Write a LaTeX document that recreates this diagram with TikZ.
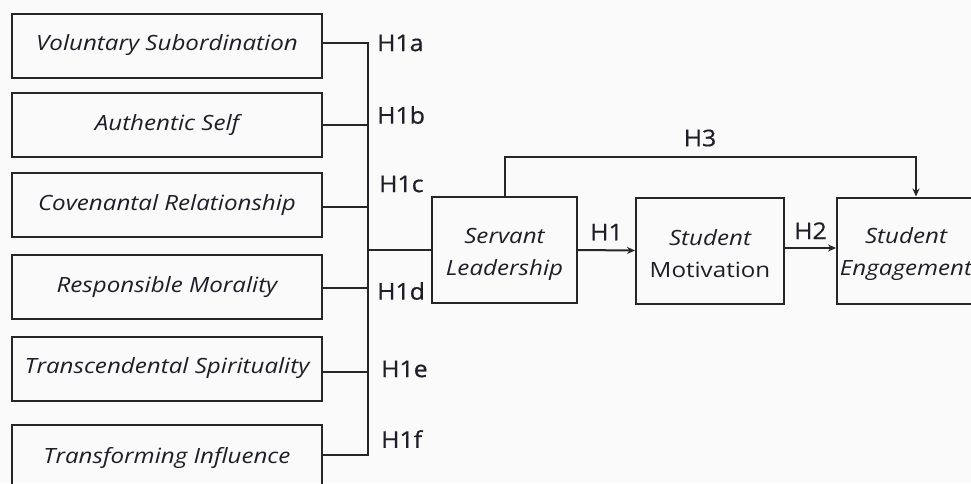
\documentclass[tikz,border=0pt]{standalone}
\usepackage{fontspec}
\setmainfont{Open Sans}[FakeStretch=1.15]
\newfontfamily\lblfont{Open Sans}[FakeStretch=1.08, FakeBold=0.5]
\usetikzlibrary{arrows.meta}
\definecolor{ink}{HTML}{1E1E28}
\tikzset{
  fact/.style={draw=black!85, line width=2pt, minimum width=310pt, minimum height=64pt, inner sep=0pt, font=\fontsize{21}{26}\selectfont\itshape, text=ink},
  mainbox/.style={draw=black!85, line width=2pt, minimum height=106pt, inner sep=0pt, align=center, font=\fontsize{21}{32}\selectfont, text=ink},
  lbl/.style={font=\lblfont\fontsize{23}{27}\selectfont, text=ink, inner sep=0pt},
  wire/.style={draw=black!85, line width=2pt},
  arr/.style={wire, -{Stealth[length=8pt,width=7pt]}}
}
\begin{document}
\begin{tikzpicture}[x=1pt,y=-1pt]
\clip (0,0) rectangle (971,483);
\fill[white!98!black] (0,0) rectangle (971,483);
% left factor boxes
\node[fact] (f1) at (167,45.5) {Voluntary Subordination};
\node[fact] (f2) at (167,125) {Authentic Self};
\node[fact] (f3) at (167,205) {Covenantal Relationship};
\node[fact] (f4) at (167,287) {Responsible Morality};
\node[fact] (f5) at (167,368.5) {Transcendental Spirituality};
\node[fact, minimum height=66pt] (f6) at (167,458) {Transforming Influence};
% bus
\coordinate (b1) at (368,43);
\coordinate (b2) at (368,125);
\coordinate (b3) at (368,207);
\coordinate (b4) at (368,288);
\coordinate (b5) at (368,372);
\coordinate (b6) at (368,455);
\coordinate (bs) at (368,250);
% main boxes
\node[mainbox, minimum width=145pt] (sl) at (504.5,250) {};
\node[mainbox, minimum width=148pt] (sm) at (710,250.5) {};
\node[mainbox, minimum width=143pt] (se) at (908.5,250.5) {};
\node[align=center, font=\fontsize{21}{32}\selectfont, text=ink] at (504.5,254) {\itshape Servant\\\itshape Leadership};
\node[align=center, font=\fontsize{21}{32}\selectfont, text=ink] at (710,254) {\itshape Student\\Motivation};
\node[align=center, font=\fontsize{21}{32}\selectfont, text=ink] at (906,254) {\itshape Student\\\itshape Engagement};
% connectors from factors
\draw[wire] (f1.east |- b1) -- (b1);
\draw[wire] (f2.east |- b2) -- (b2);
\draw[wire] (f3.east |- b3) -- (b3);
\draw[wire] (f4.east |- b4) -- (b4);
\draw[wire] (f5.east |- b5) -- (b5);
\draw[wire] (f6.east |- b6) -- (b6);
\draw[wire, line cap=rect] (b1) -- (b6);
\draw[wire] (bs) -- (sl.west |- bs);
% labels
\node[lbl, anchor=west] at (377,43) {H1a};
\node[lbl, anchor=west] at (377,115) {H1b};
\node[lbl, anchor=west] at (379,184) {H1c};
\node[lbl, anchor=west] at (377,291) {H1d};
\node[lbl, anchor=west] at (381,369) {H1e};
\node[lbl, anchor=west] at (381,439) {H1f};
% arrows
\draw[arr] (sl.east) -- (sm.west) node[lbl, midway, above=9pt] {H1};
\draw[arr] (sm.east |- 0,248) -- (se.west |- 0,248) node[lbl, midway, above=8pt] {H2};
\coordinate (h3a) at (505,157);
\coordinate (h3b) at (916,157);
\draw[arr] (sl.north -| h3a) -- (h3a) -- (h3b) -- (se.north -| h3b);
\node[lbl] at (700,138) {H3};
\end{tikzpicture}
\end{document}
